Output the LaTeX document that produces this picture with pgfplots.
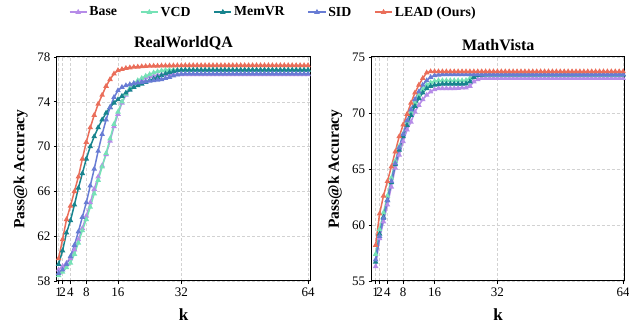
\documentclass[border=0pt]{standalone}
\usepackage{pgfplots}
\pgfplotsset{compat=1.18}
\usepackage{pgfplotstable}
\usepackage{fontspec}
\setmainfont{Liberation Serif}
\definecolor{cbase}{RGB}{182,140,232}
\definecolor{cvcd}{RGB}{118,226,182}
\definecolor{cmem}{RGB}{24,132,142}
\definecolor{csid}{RGB}{104,124,212}
\definecolor{clead}{RGB}{234,110,90}

\pgfplotstableread{
k base vcd memvr sid lead
1 59.0 58.5 59.5 58.7 60.0
2 59.3 58.8 60.7 59.0 61.7
3 59.6 59.2 62.3 59.5 63.5
4 60.0 59.6 63.4 60.2 64.7
5 60.8 60.4 64.8 61.2 66.0
6 61.7 61.4 66.3 62.4 67.3
7 62.7 62.5 67.6 63.7 68.9
8 63.8 63.5 68.9 65.0 70.4
9 65.0 64.6 70.0 66.5 71.7
10 66.2 65.8 70.9 68.0 72.8
11 67.3 67.0 71.7 69.6 73.8
12 68.3 68.2 72.4 71.1 74.6
13 69.3 69.4 73.0 72.4 75.4
14 70.5 70.7 73.5 73.5 76.0
15 71.8 72.0 73.9 74.4 76.5
16 72.9 73.1 74.2 75.0 76.8
17 73.9 74.0 74.5 75.3 76.9
18 74.6 74.7 74.8 75.45 77.0
19 75.1 75.2 75.05 75.55 77.05
20 75.5 75.6 75.3 75.65 77.1
21 75.8 75.9 75.45 75.7 77.12
22 76.0 76.1 75.6 75.75 77.15
23 76.15 76.3 75.75 75.8 77.17
24 76.25 76.45 75.9 75.85 77.19
25 76.3 76.6 76.05 75.9 77.2
26 76.38 76.7 76.2 75.95 77.2
27 76.42 76.78 76.35 76.0 77.22
28 76.45 76.83 76.5 76.1 77.22
29 76.45 76.85 76.62 76.2 77.23
30 76.45 76.85 76.72 76.32 77.23
31 76.45 76.85 76.8 76.42 77.24
32 76.45 76.85 76.85 76.48 77.24
33 76.45 76.85 76.85 76.5 77.25
34 76.45 76.85 76.85 76.5 77.25
35 76.45 76.85 76.85 76.5 77.25
36 76.45 76.85 76.85 76.5 77.25
37 76.45 76.85 76.85 76.5 77.25
38 76.45 76.85 76.85 76.5 77.25
39 76.45 76.85 76.85 76.5 77.25
40 76.45 76.85 76.85 76.5 77.25
41 76.45 76.85 76.85 76.5 77.25
42 76.45 76.85 76.85 76.5 77.25
43 76.45 76.85 76.85 76.5 77.25
44 76.45 76.85 76.85 76.5 77.25
45 76.45 76.85 76.85 76.5 77.25
46 76.45 76.85 76.85 76.5 77.25
47 76.45 76.85 76.85 76.5 77.25
48 76.45 76.85 76.85 76.5 77.25
49 76.45 76.85 76.85 76.5 77.25
50 76.45 76.85 76.85 76.5 77.25
51 76.45 76.85 76.85 76.5 77.25
52 76.45 76.85 76.85 76.5 77.25
53 76.45 76.85 76.85 76.5 77.25
54 76.45 76.85 76.85 76.5 77.25
55 76.45 76.85 76.85 76.5 77.25
56 76.45 76.85 76.85 76.5 77.25
57 76.45 76.85 76.85 76.5 77.25
58 76.45 76.85 76.85 76.5 77.25
59 76.45 76.85 76.85 76.5 77.25
60 76.45 76.85 76.85 76.5 77.25
61 76.45 76.85 76.85 76.5 77.25
62 76.45 76.85 76.85 76.5 77.25
63 76.45 76.85 76.85 76.5 77.25
64 76.45 76.85 76.85 76.5 77.25
}\rwqa

\pgfplotstableread{
k base vcd memvr sid lead
1 56.3 57.4 56.7 56.9 58.2
2 58.8 59.6 59.2 59.0 61.0
3 60.3 61.1 60.7 60.6 62.6
4 61.8 62.6 62.2 62.2 63.9
5 63.4 64.2 63.8 63.9 65.2
6 65.1 65.7 65.4 65.5 66.55
7 66.25 67.0 66.7 66.9 67.9
8 67.45 68.1 67.9 68.1 68.95
9 68.5 69.2 68.9 69.3 69.9
10 69.2 70.1 69.8 70.3 70.9
11 70.1 70.9 70.6 71.2 71.8
12 70.7 71.6 71.3 71.9 72.5
13 71.2 72.1 71.8 72.5 73.1
14 71.6 72.5 72.2 72.9 73.6
15 71.9 72.7 72.4 73.2 73.7
16 72.1 72.85 72.5 73.35 73.7
17 72.2 72.9 72.55 73.4 73.7
18 72.2 72.9 72.6 73.45 73.7
19 72.2 72.9 72.6 73.45 73.7
20 72.2 72.9 72.6 73.45 73.7
21 72.2 72.9 72.6 73.45 73.7
22 72.22 72.9 72.6 73.45 73.7
23 72.25 72.9 72.6 73.45 73.7
24 72.25 72.92 72.62 73.45 73.7
25 72.4 73.1 72.8 73.45 73.7
26 72.8 73.3 73.2 73.45 73.7
27 73.0 73.4 73.35 73.45 73.7
28 73.1 73.42 73.4 73.45 73.7
29 73.1 73.42 73.42 73.45 73.7
30 73.1 73.42 73.42 73.45 73.7
31 73.1 73.42 73.42 73.45 73.7
32 73.1 73.42 73.42 73.45 73.7
33 73.1 73.42 73.42 73.45 73.7
34 73.1 73.42 73.42 73.45 73.7
35 73.1 73.42 73.42 73.45 73.7
36 73.1 73.42 73.42 73.45 73.7
37 73.1 73.42 73.42 73.45 73.7
38 73.1 73.42 73.42 73.45 73.7
39 73.1 73.42 73.42 73.45 73.7
40 73.1 73.42 73.42 73.45 73.7
41 73.1 73.42 73.42 73.45 73.7
42 73.1 73.42 73.42 73.45 73.7
43 73.1 73.42 73.42 73.45 73.7
44 73.1 73.42 73.42 73.45 73.7
45 73.1 73.42 73.42 73.45 73.7
46 73.1 73.42 73.42 73.45 73.7
47 73.1 73.42 73.42 73.45 73.7
48 73.1 73.42 73.42 73.45 73.7
49 73.1 73.42 73.42 73.45 73.7
50 73.1 73.42 73.42 73.45 73.7
51 73.1 73.42 73.42 73.45 73.7
52 73.1 73.42 73.42 73.45 73.7
53 73.1 73.42 73.42 73.45 73.7
54 73.1 73.42 73.42 73.45 73.7
55 73.1 73.42 73.42 73.45 73.7
56 73.1 73.42 73.42 73.45 73.7
57 73.1 73.42 73.42 73.45 73.7
58 73.1 73.42 73.42 73.45 73.7
59 73.1 73.42 73.42 73.45 73.7
60 73.1 73.42 73.42 73.45 73.7
61 73.1 73.42 73.42 73.45 73.7
62 73.1 73.42 73.42 73.45 73.7
63 73.1 73.42 73.42 73.45 73.7
64 73.1 73.42 73.42 73.45 73.7
}\mathv

\pgfplotsset{
  myax/.style={
    scale only axis, width=253pt, height=224pt,
    xtick={1,2,4,8,16,32,64},
    grid=major,
    grid style={densely dashed, gray!35, line width=0.5pt},
    axis line style={line width=1pt},
    tick align=outside, tick pos=left,
    major tick length=3pt,
    tick style={black, line width=0.8pt},
    ticklabel style={font=\fontsize{13}{13}\selectfont},
    /pgf/number format/assume math mode=true,
    xlabel={\textbf{k}},
    ylabel={\textbf{Pass@k Accuracy}},
    xlabel style={font=\fontsize{17}{17}\selectfont, yshift=-6pt},
    ylabel style={font=\fontsize{15.5}{16}\selectfont, yshift=3pt},
    title style={font=\bfseries\fontsize{16}{16}\selectfont, yshift=-3pt},
    every axis plot/.append style={line width=1.5pt, mark=triangle*, mark size=1.8pt, mark options={solid}},
  },
}

\begin{document}
\begin{tikzpicture}
\useasboundingbox (-57pt,-48pt) rectangle (572pt,281pt);
\begin{axis}[myax, at={(0pt,0pt)}, anchor=south west,
  title={RealWorldQA},
  xmin=0.6, xmax=64.5, ymin=58, ymax=78, ytick={58,62,66,70,74,78},
  legend columns=5,
  legend style={at={(0.855,1.2)}, anchor=center, draw=none, fill=none,
    font=\bfseries\fontsize{13.8}{14}\selectfont,
    /tikz/every even column/.append style={column sep=21pt}},
]
\addplot[cbase] table[x=k, y=base] {\rwqa};
\addlegendentry{Base}
\addplot[cvcd] table[x=k, y=vcd] {\rwqa};
\addlegendentry{VCD}
\addplot[cmem] table[x=k, y=memvr] {\rwqa};
\addlegendentry{MemVR}
\addplot[csid] table[x=k, y=sid] {\rwqa};
\addlegendentry{SID}
\addplot[clead] table[x=k, y=lead] {\rwqa};
\addlegendentry{LEAD (Ours)}
\end{axis}
\begin{axis}[myax, at={(314.7pt,0pt)}, anchor=south west,
  title={MathVista},
  xmin=0, xmax=64.4, ymin=55, ymax=75, ytick={55,60,65,70,75},
]
\addplot[cbase] table[x=k, y=base] {\mathv};
\addplot[cvcd] table[x=k, y=vcd] {\mathv};
\addplot[cmem] table[x=k, y=memvr] {\mathv};
\addplot[csid] table[x=k, y=sid] {\mathv};
\addplot[clead] table[x=k, y=lead] {\mathv};
\end{axis}
\end{tikzpicture}
\end{document}
